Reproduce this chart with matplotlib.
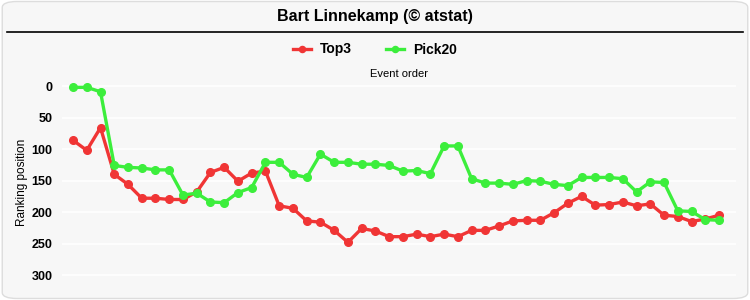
import numpy as np
import matplotlib.pyplot as plt
from matplotlib.lines import Line2D
from matplotlib.patches import FancyBboxPatch

plt.rcParams['font.family'] = ['Liberation Sans', 'DejaVu Sans']

# ranking positions per event (lower is better)
top3 = [86, 102, 66, 140, 156, 178, 178, 180, 180, 168, 137, 129, 151, 138, 135, 190,
        194, 214, 216, 229, 248, 226, 230, 239, 239, 235, 239, 235, 239, 229, 229, 222,
        214, 213, 213, 201, 186, 175, 189, 188, 184, 190, 187, 205, 207, 215, 211, 205]
pick20 = [2, 2, 9, 126, 129, 130, 133, 133, 173, 170, 184, 185, 169, 161, 121, 121,
          140, 145, 108, 121, 121, 124, 124, 126, 135, 134, 139, 95, 95, 147, 154, 154,
          156, 150, 151, 156, 158, 145, 145, 145, 147, 168, 152, 153, 198, 199, 212, 213]
yticks = [0, 50, 100, 150, 200, 250, 300]

red = '#f03535'
green = '#3cee3c'
bg = '#f7f7f7'

fig = plt.figure(figsize=(7.5, 3), dpi=100)
fig.patch.set_facecolor('white')
frame = FancyBboxPatch((0.003, 0.005), 0.994, 0.99, boxstyle='round,pad=0,rounding_size=0.02',
                       transform=fig.transFigure, facecolor=bg, edgecolor='#dddddd', lw=1, zorder=-10)
fig.patches.append(frame)

fig.text(0.5, 0.945, 'Bart Linnekamp (© atstat)', ha='center', va='center',
         fontsize=11.5, fontweight='bold')
fig.add_artist(Line2D([0.009, 0.991], [0.893, 0.893], color='black', lw=1.2, transform=fig.transFigure))

ax = fig.add_axes([0.0827, 0.02, 0.898, 0.713])
ax.set_facecolor(bg)
x = np.arange(len(top3))
ax.plot(x, top3, color=red, lw=2.4, marker='o', ms=5.5, label='Top3')
ax.plot(x, pick20, color=green, lw=2.4, marker='o', ms=5.5, label='Pick20')

ax.set_xlim(-0.8, 48.2)
ax.set_ylim(330, -9.5)
ax.set_yticks(yticks)
ax.set_yticklabels([str(t) for t in yticks], fontweight='bold', fontsize=9)
ax.tick_params(axis='y', length=0, pad=7)
ax.set_xticks([])
ax.grid(axis='y', color='white', lw=1.2)
ax.set_axisbelow(True)
for s in ax.spines.values():
    s.set_visible(False)
ax.set_ylabel('Ranking position', fontsize=8.5)
ax.yaxis.set_label_coords(-0.051, 0.523)
ax.xaxis.set_label_position('top')
ax.set_xlabel('Event order', fontsize=8, labelpad=2)

handles, labels = ax.get_legend_handles_labels()
fig.legend(handles, labels, loc='center', bbox_to_anchor=(0.5, 0.835), ncol=2, frameon=False,
           prop={'weight': 'bold', 'size': 10}, handlelength=1.3, columnspacing=2.5,
           handletextpad=0.6, markerscale=0.8)

fig.savefig('out.png', dpi=100, facecolor=fig.get_facecolor())
